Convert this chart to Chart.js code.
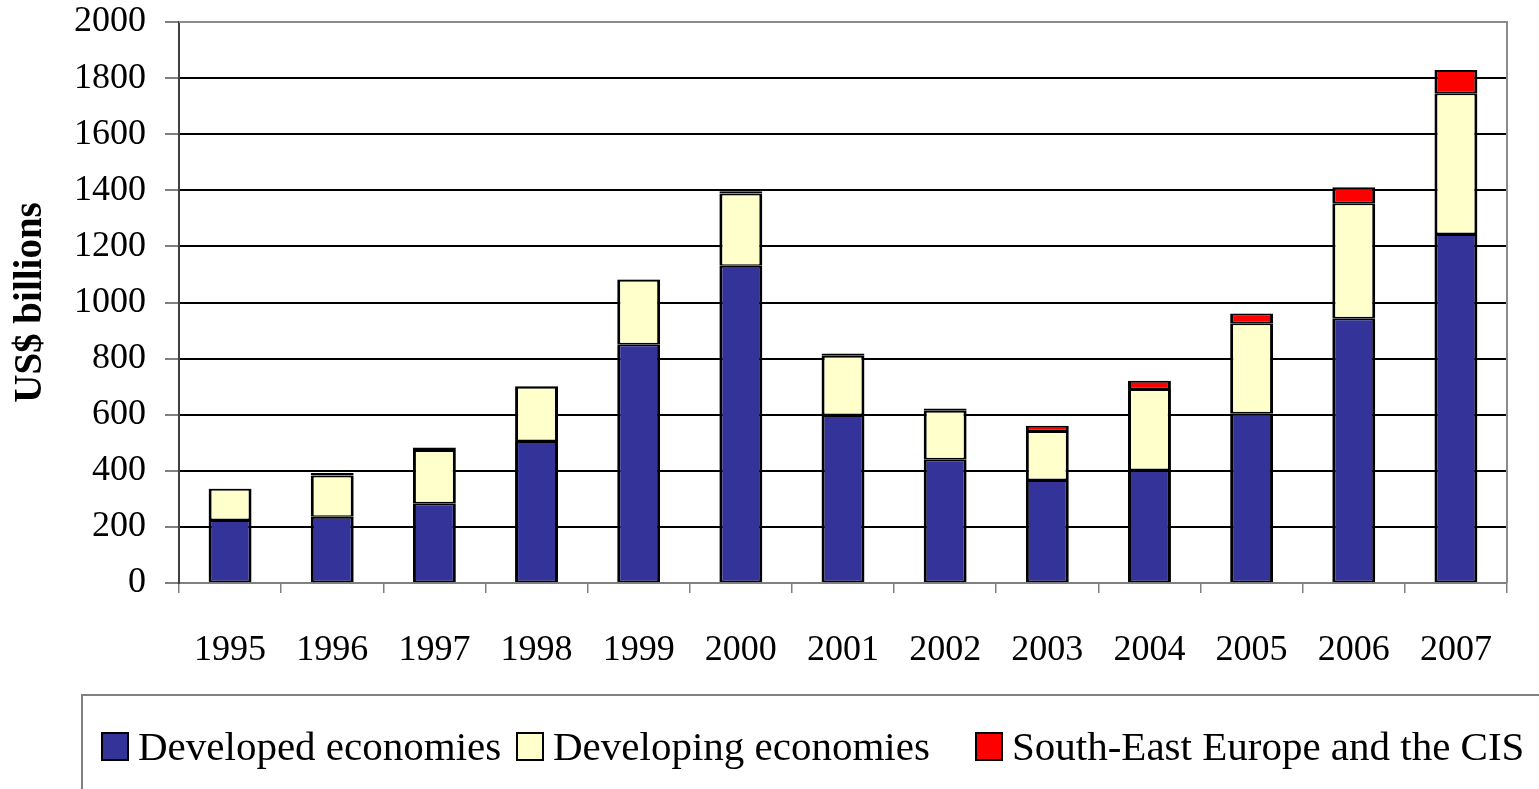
<!DOCTYPE html>
<html>
<head>
<meta charset="utf-8">
<title>Cross-border M&amp;A</title>
<script src="https://cdn.jsdelivr.net/npm/chart.js@4.4.0/dist/chart.umd.min.js"></script>
<style>
  body { margin: 0; background: #fff; }
  #wrap { position: relative; width: 1539px; height: 789px; overflow: hidden; }
  #viz { position: absolute; left: 0; top: 0; }
  #legend {
    position: absolute; left: 81px; top: 694px; width: 1500px; height: 140px;
    border: 2px solid #808080; border-right: none;
    font-family: "Liberation Serif", "Times New Roman", serif; font-size: 41px; color: #000;
  }
  .item { position: absolute; top: 26px; white-space: nowrap; display: flex; align-items: center; }
  .swatch { width: 24px; height: 25px; border: 2px solid #000; margin-right: 9px; }
</style>
</head>
<body>
<div id="wrap">
  <canvas id="viz" width="1539" height="789"></canvas>
  <div id="legend"></div>
</div>
<script>
// categories
const years = ['1995', '1996', '1997', '1998', '1999', '2000', '2001', '2002', '2003', '2004', '2005', '2006', '2007'];

// series values, US$ billions
const developed  = [225, 236, 284, 506, 851, 1131, 599, 441, 367, 403, 605, 944, 1244];
const developing = [111, 147, 190, 194, 230, 258, 211, 173, 175, 289, 321, 410, 502];
const seeCis     = [1, 9, 9, 2, 2, 8, 8, 8, 19, 29, 35, 57, 83];

const seriesNames = ['Developed economies', 'Developing economies', 'South-East Europe and the CIS'];
const seriesColors = ['#333399', '#FFFFCC', '#FF0000'];

// y ticks
const yMin = 0;
const yMax = 2000;
const yStep = 200;

const serif = '"Liberation Serif", "Times New Roman", serif';

// legend (html, left of each item in px inside the box)
const legendLeft = [18, 433, 892];
const legendEl = document.getElementById('legend');
seriesNames.forEach((name, i) => {
  const item = document.createElement('div');
  item.className = 'item';
  item.style.left = legendLeft[i] + 'px';
  const sw = document.createElement('span');
  sw.className = 'swatch';
  sw.style.background = seriesColors[i];
  const txt = document.createElement('span');
  txt.textContent = name;
  item.appendChild(sw);
  item.appendChild(txt);
  legendEl.appendChild(item);
});

// gray top / right frame of the plot area
const frame = {
  id: 'frame',
  beforeDatasetsDraw(chart) {
    const {ctx, chartArea: a} = chart;
    ctx.save();
    ctx.strokeStyle = '#8c8c8c';
    ctx.lineWidth = 2;
    ctx.beginPath();
    ctx.moveTo(a.left, a.top);
    ctx.lineTo(a.right, a.top);
    ctx.lineTo(a.right, a.bottom);
    ctx.stroke();
    ctx.restore();
  }
};

const values = [developed, developing, seeCis];
const datasets = values.map((v, i) => ({
  label: seriesNames[i],
  data: v,
  backgroundColor: seriesColors[i],
  borderColor: '#000',
  borderWidth: { top: 2, bottom: 1.5, left: 3, right: 3 },
  borderSkipped: false,
  inflateAmount: 0,
  categoryPercentage: 1,
  barPercentage: 0.42
}));

const ctx = document.getElementById('viz');
new Chart(ctx, {
  type: 'bar',
  data: { labels: years, datasets: datasets },
  options: {
    responsive: false,
    animation: false,
    devicePixelRatio: 1,
    layout: { padding: { top: 22, right: 32, left: 0, bottom: 0 } },
    plugins: {
      legend: { display: false },
      tooltip: { enabled: false }
    },
    scales: {
      x: {
        stacked: true,
        offset: true,
        grid: {
          offset: true,
          drawOnChartArea: false,
          color: '#808080',
          lineWidth: 1.5,
          tickLength: 10
        },
        border: { color: '#808080', width: 2 },
        ticks: {
          color: '#000',
          padding: 36,
          maxRotation: 0,
          font: { family: serif, size: 36 }
        },
        afterFit(scale) { scale.height = 206; }
      },
      y: {
        stacked: true,
        min: yMin,
        max: yMax,
        grid: {
          color: c => (c.tick && c.tick.value === yMax) ? '#8c8c8c' : '#000',
          lineWidth: 2,
          tickLength: 14,
          tickColor: '#000',
          tickWidth: 1
        },
        border: { color: '#404040', width: 2 },
        ticks: {
          stepSize: yStep,
          color: '#000',
          padding: 19,
          font: { family: serif, size: 36 },
          callback: v => String(v)
        },
        title: {
          display: true,
          text: 'US$ billions',
          color: '#000',
          padding: { top: 8, bottom: 0 },
          font: { family: serif, size: 39, weight: 'bold' }
        },
        afterFit(scale) {
          scale.width = 179;
          scale.paddingTop = 0;
        }
      }
    }
  },
  plugins: [frame]
});
</script>
</body>
</html>
